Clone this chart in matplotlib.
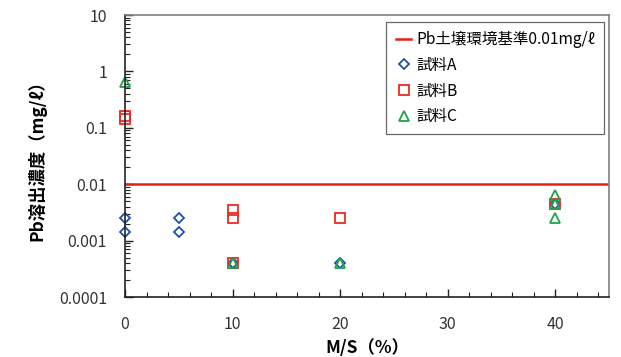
import numpy as np
import matplotlib
matplotlib.use("Agg")
import matplotlib.pyplot as plt
from matplotlib.ticker import MultipleLocator, LogLocator, NullFormatter, FixedLocator

plt.rcParams['font.family'] = ['Noto Sans CJK JP', 'DejaVu Sans']

# leaching test results, Pb (mg/L) vs M/S ratio (%)
a_x = [0, 0, 5, 5, 10, 20, 40]
a_y = [0.0025, 0.0014, 0.0025, 0.0014, 0.0004, 0.0004, 0.0045]
b_x = [0, 0, 10, 10, 10, 20, 40]
b_y = [0.145, 0.16, 0.0035, 0.0025, 0.0004, 0.0025, 0.0045]
c_x = [0, 10, 20, 40, 40, 40]
c_y = [0.65, 0.0004, 0.0004, 0.0065, 0.0045, 0.0025]
limit = 0.01

fig = plt.figure(figsize=(6.21, 3.57), dpi=100)
ax = fig.add_axes([125/621, 1-297/357, 484/621, 282/357])

ax.axhline(limit, color="#e8201c", linewidth=1.8, label="Pb土壌環境基準0.01mg/ℓ")
ax.plot(a_x, a_y, linestyle="none", marker="D", markersize=5.5, markerfacecolor="none",
        markeredgecolor="#1f4fa8", markeredgewidth=1.3, label="試料A", clip_on=False)
ax.plot(b_x, b_y, linestyle="none", marker="s", markersize=7.5, markerfacecolor="none",
        markeredgecolor="#ee2a24", markeredgewidth=1.3, label="試料B", clip_on=False)
ax.plot(c_x, c_y, linestyle="none", marker="^", markersize=7.5, markerfacecolor="none",
        markeredgecolor="#1fa34a", markeredgewidth=1.3, label="試料C", clip_on=False)

ax.set_yscale("log")
ax.set_ylim(0.0001, 10)
ax.set_xlim(0, 45)
ax.xaxis.set_major_locator(FixedLocator([0, 10, 20, 30, 40]))
ax.xaxis.set_minor_locator(MultipleLocator(2))
ax.yaxis.set_major_locator(LogLocator(base=10, numticks=10))
ax.yaxis.set_minor_locator(LogLocator(base=10, subs=np.arange(2, 10), numticks=10))
ax.yaxis.set_minor_formatter(NullFormatter())
ax.set_yticks([0.0001, 0.001, 0.01, 0.1, 1, 10])
ax.set_yticklabels(["0.0001", "0.001", "0.01", "0.1", "1", "10"])

ax.tick_params(axis="both", which="both", direction="in", labelsize=11.5, colors="#222222",
               labelcolor="#333333")
ax.tick_params(axis="both", which="major", length=6, width=1)
ax.tick_params(axis="both", which="minor", length=3.5, width=0.8)
ax.tick_params(axis="x", pad=14)
ax.tick_params(axis="y", pad=13)

for side in ["left", "bottom"]:
    ax.spines[side].set_color("#222222")
    ax.spines[side].set_linewidth(1.2)
for side in ["top", "right"]:
    ax.spines[side].set_color("#808080")
    ax.spines[side].set_linewidth(1.2)

ax.set_xlabel("M/S（%）", fontsize=12.5, fontweight="bold", labelpad=4)
ax.set_ylabel("Pb溶出濃度（mg/ℓ）", fontsize=12.5, fontweight="bold", labelpad=9)

leg = ax.legend(loc="upper right", bbox_to_anchor=(0.99, 0.975), fontsize=11.2,
                frameon=True, fancybox=False, edgecolor="#444444", handlelength=1.0,
                handletextpad=0.3, labelspacing=0.55, borderpad=0.6, borderaxespad=0)
leg.get_frame().set_linewidth(0.9)

fig.savefig("out.png", dpi=100)
